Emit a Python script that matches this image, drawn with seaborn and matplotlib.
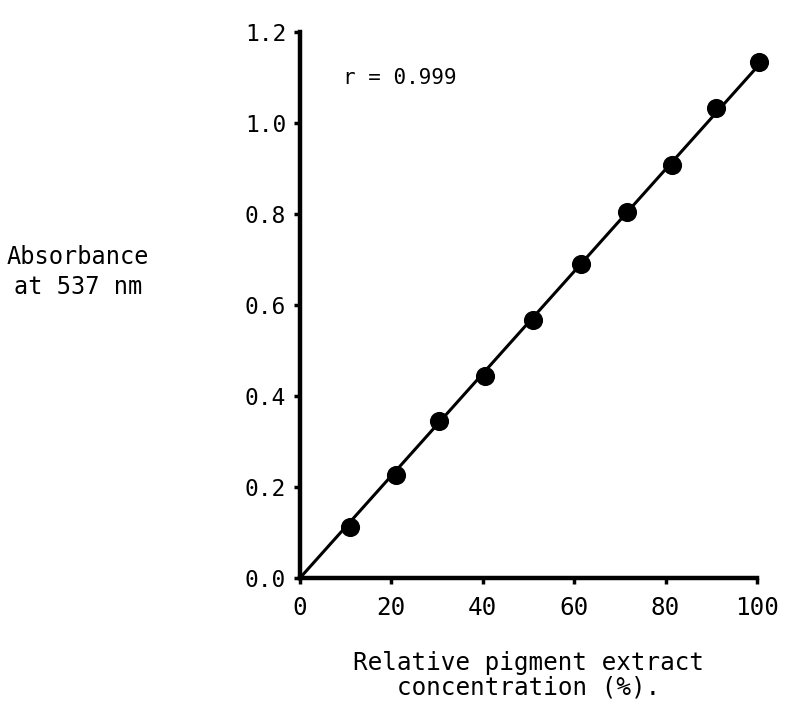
import numpy as np
import pandas as pd
import matplotlib
matplotlib.use("Agg")
import matplotlib.pyplot as plt
import seaborn as sns

# values
concentration = [11, 21, 30.5, 40.5, 51, 61.5, 71.5, 81.5, 91, 100.5]
absorbance = [0.113, 0.227, 0.344, 0.443, 0.567, 0.691, 0.804, 0.907, 1.033, 1.134]
x_ticks = [0, 20, 40, 60, 80, 100]
y_ticks = [0.0, 0.2, 0.4, 0.6, 0.8, 1.0, 1.2]
r_text = "r = 0.999"

df = pd.DataFrame({"conc": concentration, "abs": absorbance})

# least squares line through the origin
x = np.array(concentration)
y = np.array(absorbance)
slope = (x * y).sum() / (x * x).sum()
fit = pd.DataFrame({"conc": [0, 103]})
fit["abs"] = slope * fit["conc"]

sns.set_style("ticks")
plt.rcParams['font.family'] = ['DejaVu Sans Mono', 'DejaVu Sans']
plt.rcParams['text.color'] = 'black'
plt.rcParams['axes.labelcolor'] = 'black'

fig = plt.figure(figsize=(8.01, 7.09), dpi=100)
ax = fig.add_axes([0.3745, 0.1848, 0.5705, 0.7700])

sns.lineplot(data=fit, x="conc", y="abs", color="black", linewidth=2.2, ax=ax)
sns.scatterplot(data=df, x="conc", y="abs", color="black", s=190, edgecolor="black",
                linewidth=0, ax=ax, clip_on=False, zorder=3)

ax.set_xlim(0, 100)
ax.set_ylim(0, 1.2)
ax.set_xticks(x_ticks)
ax.set_yticks(y_ticks)
ax.set_yticklabels([f"{v:.1f}" for v in y_ticks])
ax.tick_params(axis="both", direction="out", length=4, width=2.5,
               color="black", labelcolor="black")
ax.tick_params(axis="y", labelsize=16.5, pad=6)
ax.tick_params(axis="x", labelsize=17.5, pad=9)

sns.despine(ax=ax)
for side in ["left", "bottom"]:
    ax.spines[side].set_linewidth(3.2)
    ax.spines[side].set_color("black")

ax.set_xlabel("Relative pigment extract\nconcentration (%).", fontsize=17.5, labelpad=22,
              linespacing=1.05)
ax.set_ylabel("Absorbance\nat 537 nm", fontsize=17, rotation=0, ha="center", va="center",
              linespacing=1.3)
ax.yaxis.set_label_coords(-0.486, 0.56)

ax.text(9.5, 1.10, r_text, fontsize=15, ha="left", va="center")

fig.savefig("out.png", dpi=100)
